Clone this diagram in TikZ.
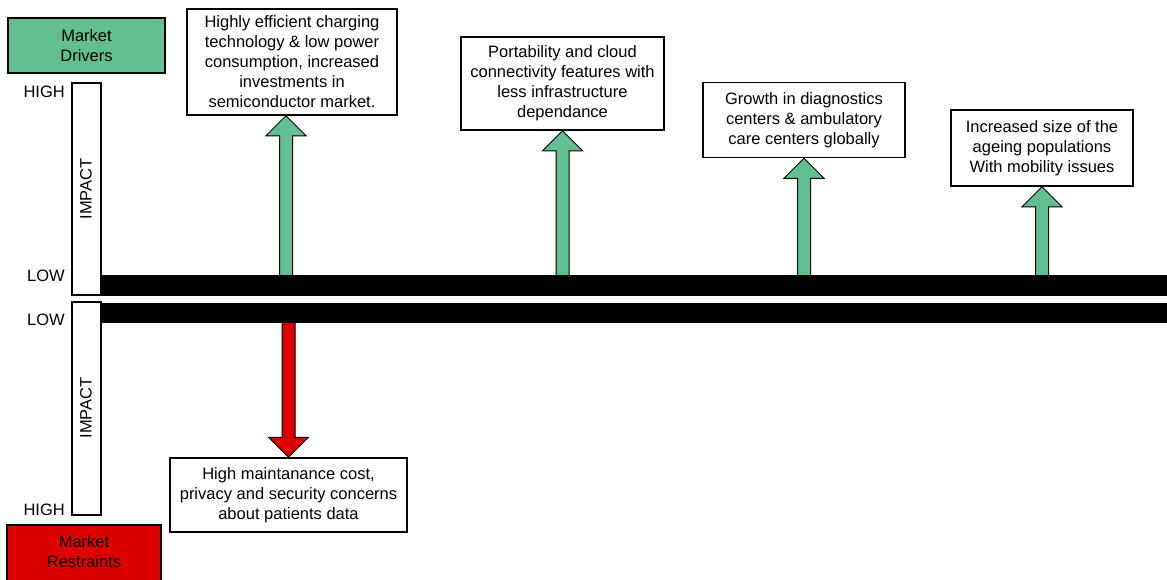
\documentclass[tikz,border=0pt]{standalone}
\usepackage{fontspec}
\setmainfont{Liberation Sans}
\usetikzlibrary{calc}
\definecolor{drvgreen}{RGB}{98,192,144}
\definecolor{rstred}{RGB}{221,0,0}
\tikzset{
  txt/.style={font=\fontsize{16.5}{20}\selectfont},
  infobox/.style={txt, draw=black, line width=1.5pt, fill=white, align=center, inner sep=0pt},
  headbox/.style={txt, draw=black, line width=1.5pt, align=center, inner sep=0pt},
  impactbar/.style={draw=black, line width=1.5pt, fill=white, inner sep=0pt},
  blackbar/.style={fill=black, draw=none, inner sep=0pt},
  lvl/.style={txt, anchor=east, inner sep=0pt},
  garrow/.style={draw=black, line width=1pt, fill=drvgreen, line join=miter},
  rarrow/.style={draw=black, line width=1pt, fill=rstred, line join=miter}
}
\begin{document}
\begin{tikzpicture}[x=1pt,y=-1pt]
\useasboundingbox (0,0) rectangle (1167,579);
% headers
\node[headbox, fill=drvgreen, minimum width=157pt, minimum height=55pt] (drv) at (86.5,45.5) {Market\\Drivers};
\node[headbox, fill=rstred, minimum width=154pt, minimum height=65pt] (rst) at (84,557.5) {};
\node[txt, align=center, inner sep=0pt] (rstt) at (84,552) {Market\\Restraints};
% impact bars
\node[impactbar, minimum width=29pt, minimum height=212pt] (imp1) at (86.5,189) {};
\node[txt, rotate=90] (imp1t) at (86,189) {IMPACT};
\node[impactbar, minimum width=29pt, minimum height=213pt] (imp2) at (86.5,408.5) {};
\node[txt, rotate=90] (imp2t) at (86,408) {IMPACT};
% level labels
\node[lvl] (h1) at (65,92) {HIGH};
\node[lvl] (l1) at (65,276) {LOW};
\node[lvl] (l2) at (65,320) {LOW};
\node[lvl] (h2) at (65,510) {HIGH};
% black bars
\node[blackbar, minimum width=1074pt, minimum height=21pt] (bar1) at (638,285.5) {};
\node[blackbar, minimum width=1074pt, minimum height=20pt] (bar2) at (638,313) {};
% driver boxes
\node[infobox, minimum width=210pt, minimum height=106pt] (b1) at (292,62) {Highly efficient charging\\technology \& low power\\consumption, increased\\investments in\\semiconductor market.};
\node[infobox, minimum width=203pt, minimum height=93pt] (b2) at (562.5,83.5) {Portability and cloud\\connectivity features with\\less infrastructure\\dependance};
\node[infobox, minimum width=202pt, minimum height=75pt] (b3) at (804,120) {Growth in diagnostics\\centers \& ambulatory\\care centers globally};
\node[infobox, minimum width=182pt, minimum height=76pt] (b4) at (1042,148) {Increased size of the\\ageing populations\\With mobility issues};
% restraint box
\node[infobox, minimum width=237pt, minimum height=74pt] (r1) at (288.5,495) {High maintanance cost,\\privacy and security concerns\\about patients data};
% green arrows
\foreach \b/\dx in {b1/-6, b2/0, b3/0, b4/0}{
  \draw[garrow] let \p1=([xshift=\dx pt]\b.south), \p2=(bar1.north) in
    (\x1-6.5pt,\y2) -- (\x1-6.5pt,\y1-20pt) -- (\x1-20pt,\y1-20pt) -- (\x1,\y1)
    -- (\x1+20pt,\y1-20pt) -- (\x1+6.5pt,\y1-20pt) -- (\x1+6.5pt,\y2);
}
% red arrow
\draw[rarrow] let \p1=(r1.north), \p2=(bar2.south) in
  (\x1-6.5pt,\y2) -- (\x1-6.5pt,\y1+20pt) -- (\x1-20pt,\y1+20pt) -- (\x1,\y1)
  -- (\x1+20pt,\y1+20pt) -- (\x1+6.5pt,\y1+20pt) -- (\x1+6.5pt,\y2);
\end{tikzpicture}
\end{document}
